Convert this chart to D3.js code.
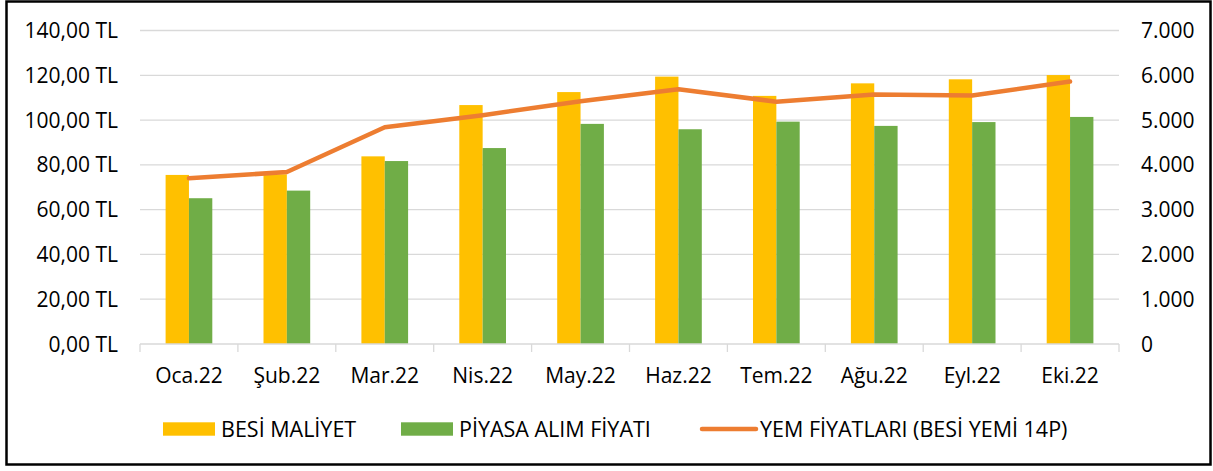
<!DOCTYPE html>
<html>
<head>
<meta charset="utf-8">
<script src="https://cdn.jsdelivr.net/npm/d3@7"></script>
<style>
	body { margin: 0; background: #fff; }
	svg text { font-family: "Open Sans", "Noto Sans", sans-serif; fill: #000; }
</style>
</head>
<body>
<svg id="chart"></svg>
<script>
'use strict';

var WIDTH = 1213,
	HEIGHT = 471;

// data
var months = ['Oca.22', 'Şub.22', 'Mar.22', 'Nis.22', 'May.22', 'Haz.22', 'Tem.22', 'Ağu.22', 'Eyl.22', 'Eki.22'];
var besiMaliyet = [75.5, 75.8, 83.8, 106.7, 112.5, 119.4, 110.8, 116.4, 118.2, 120.1];
var piyasaAlim = [65.1, 68.5, 81.7, 87.5, 98.3, 95.9, 99.3, 97.4, 99.1, 101.4];
var yemFiyat = [3700, 3840, 4840, 5110, 5420, 5690, 5410, 5570, 5550, 5860];
var leftTicks = [0, 20, 40, 60, 80, 100, 120, 140];
var rightTicks = [0, 1000, 2000, 3000, 4000, 5000, 6000, 7000];
var seriesNames = ['BESİ MALİYET', 'PİYASA ALIM FİYATI', 'YEM FİYATLARI (BESİ YEMİ 14P)'];

var yellow = '#FFC000',
	green = '#70AD47',
	orange = '#ED7D31',
	gridColor = '#D9D9D9';

var plot = { left: 140, right: 1119, top: 30.5, bottom: 344 };

var svg = d3.select('#chart')
	.attr('width', WIDTH)
	.attr('height', HEIGHT);

svg.append('rect')
	.attr('x', 0).attr('y', 0)
	.attr('width', WIDTH).attr('height', HEIGHT)
	.style('fill', '#fff');

// outer frame
svg.append('rect')
	.attr('x', 6.5).attr('y', 1.5)
	.attr('width', 1204).attr('height', 463)
	.style('fill', 'none')
	.style('stroke', '#000')
	.style('stroke-width', 2.5);

var x = d3.scaleBand()
	.domain(months)
	.range([plot.left, plot.right])
	.paddingInner(0.523)
	.paddingOuter(0.2615);

var xSub = d3.scaleBand()
	.domain([0, 1])
	.range([0, x.bandwidth()]);

var yLeft = d3.scaleLinear()
	.domain([0, 140])
	.range([plot.bottom, plot.top]);

var yRight = d3.scaleLinear()
	.domain([0, 7000])
	.range([plot.bottom, plot.top]);

// gridlines
svg.selectAll('.grid')
	.data(leftTicks.slice(1))
	.enter()
	.append('line')
	.attr('x1', plot.left).attr('x2', plot.right)
	.attr('y1', function (d) { return yLeft(d); })
	.attr('y2', function (d) { return yLeft(d); })
	.style('stroke', gridColor)
	.style('stroke-width', 1.3);

// left axis labels
var fmtTL = function (d) {
	return d.toFixed(2).replace('.', ',') + ' TL';
};
svg.selectAll('.yl')
	.data(leftTicks)
	.enter()
	.append('text')
	.attr('x', 118)
	.attr('y', function (d) { return yLeft(d); })
	.attr('dy', '0.36em')
	.style('text-anchor', 'end')
	.style('font-size', '21px')
	.text(fmtTL);

// right axis labels
var fmtDot = function (d) {
	return d3.format(',')(d).replace(/,/g, '.');
};
svg.selectAll('.yr')
	.data(rightTicks)
	.enter()
	.append('text')
	.attr('x', 1141)
	.attr('y', function (d) { return yRight(d); })
	.attr('dy', '0.36em')
	.style('text-anchor', 'start')
	.style('font-size', '21px')
	.text(fmtDot);

// bars
var groups = svg.selectAll('.grp')
	.data(months)
	.enter()
	.append('g')
	.attr('transform', function (d) { return 'translate(' + x(d) + ',0)'; });

groups.append('rect')
	.attr('x', xSub(0))
	.attr('width', xSub.bandwidth())
	.attr('y', function (d, i) { return yLeft(besiMaliyet[i]); })
	.attr('height', function (d, i) { return yLeft(0) - yLeft(besiMaliyet[i]); })
	.style('fill', yellow);

groups.append('rect')
	.attr('x', xSub(1))
	.attr('width', xSub.bandwidth())
	.attr('y', function (d, i) { return yLeft(piyasaAlim[i]); })
	.attr('height', function (d, i) { return yLeft(0) - yLeft(piyasaAlim[i]); })
	.style('fill', green);

// x axis line and ticks
var step = x.step();
svg.append('line')
	.attr('x1', plot.left).attr('x2', plot.right)
	.attr('y1', plot.bottom).attr('y2', plot.bottom)
	.style('stroke', gridColor)
	.style('stroke-width', 1.3);

var tickPos = months.map(function (d, i) { return plot.left + i * step; }).concat([plot.right]);
svg.selectAll('.xtick')
	.data(tickPos)
	.enter()
	.append('line')
	.attr('x1', function (d) { return d; })
	.attr('x2', function (d) { return d; })
	.attr('y1', plot.bottom)
	.attr('y2', plot.bottom + 8)
	.style('stroke', gridColor)
	.style('stroke-width', 1.3);

svg.selectAll('.xl')
	.data(months)
	.enter()
	.append('text')
	.attr('x', function (d) { return x(d) + x.bandwidth() / 2; })
	.attr('y', 382.5)
	.style('text-anchor', 'middle')
	.style('font-size', '21px')
	.text(function (d) { return d; });

// line series
var line = d3.line()
	.x(function (d, i) { return x(months[i]) + x.bandwidth() / 2; })
	.y(function (d) { return yRight(d); });

svg.append('path')
	.datum(yemFiyat)
	.attr('d', line)
	.style('fill', 'none')
	.style('stroke', orange)
	.style('stroke-width', 4.5)
	.style('stroke-linecap', 'round')
	.style('stroke-linejoin', 'round');

// legend
var legendX = [163, 401, 701];
var legend = svg.selectAll('.leg')
	.data(seriesNames)
	.enter()
	.append('g')
	.attr('transform', function (d, i) { return 'translate(' + legendX[i] + ',0)'; });

legend.each(function (d, i) {
	var g = d3.select(this);
	if (i < 2) {
		g.append('rect')
			.attr('x', 0).attr('y', 422.3)
			.attr('width', 52).attr('height', 13.4)
			.style('fill', i === 0 ? yellow : green);
	} else {
		g.append('line')
			.attr('x1', 1).attr('x2', 55)
			.attr('y1', 429).attr('y2', 429)
			.style('stroke', orange)
			.style('stroke-width', 4.5)
			.style('stroke-linecap', 'round');
	}
	g.append('text')
		.attr('x', i < 2 ? 58 : 59)
		.attr('y', 436.5)
		.style('font-size', '21.5px')
		.text(d);
});
</script>
</body>
</html>
